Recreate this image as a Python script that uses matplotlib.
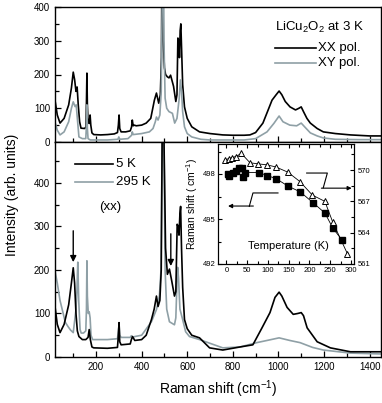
import matplotlib
matplotlib.use("Agg")
import matplotlib.pyplot as plt
from matplotlib.ticker import MultipleLocator

plt.rcParams['font.family'] = ['Liberation Sans', 'DejaVu Sans']
plt.rcParams['mathtext.fontset'] = 'custom'
plt.rcParams['mathtext.rm'] = 'Liberation Sans'

GREY = '#8fa0a6'

# ---- top panel: LiCu2O2 at 3 K, XX and XY polarisations ----
xx_shift = [20, 30, 42, 60, 80, 92, 100, 106, 112, 117, 122, 128, 134, 150, 156, 158, 160, 162,
            165, 170, 174, 177, 182, 190, 220, 250, 280, 294, 298, 301, 304, 310, 330, 350, 356,
            359, 363, 368, 376, 400, 420, 440, 456, 465, 475, 482, 487, 491, 495, 500, 505, 513,
            520, 527, 540, 550, 555, 559, 563, 566, 569, 572, 576, 580, 588, 600, 620, 654, 700,
            756, 800, 850, 875, 900, 932, 955, 972, 990, 1003, 1015, 1030, 1051, 1075, 1090, 1100,
            1110, 1125, 1140, 1170, 1197, 1250, 1316, 1400, 1450]
xx_int = [124, 80, 56, 70, 110, 160, 207, 185, 150, 163, 110, 60, 41, 40, 45, 120, 204, 110,
          60, 55, 80, 50, 27, 22, 21, 22, 24, 28, 50, 80, 40, 30, 30, 33, 45,
          65, 48, 50, 48, 50, 56, 70, 124, 145, 115, 140, 250, 800, 300, 220, 200, 193,
          190, 198, 165, 120, 140, 308, 300, 250, 330, 350, 260, 170, 104, 70, 45, 30, 25,
          21, 20, 20, 21, 28, 56, 95, 124, 140, 151, 140, 120, 104, 95, 100, 104,
          90, 70, 56, 40, 30, 25, 21, 18, 18]

xy_shift = [20, 30, 42, 60, 80, 92, 100, 108, 113, 118, 125, 140, 155, 158, 160, 162, 165, 175,
            190, 250, 296, 300, 304, 340, 356, 359, 363, 400, 434, 450, 460, 465, 472, 480, 486,
            490, 494, 498, 503, 510, 520, 535, 545, 555, 565, 570, 575, 580, 588, 600, 620, 660,
            700, 780, 850, 900, 950, 980, 1003, 1020, 1050, 1080, 1100, 1115, 1140, 1170, 1197,
            1250, 1350, 1450]
xy_int = [59, 35, 21, 30, 60, 100, 119, 105, 110, 70, 15, 10, 10, 50, 110, 40, 10, 6,
          6, 6, 8, 15, 8, 10, 20, 30, 22, 25, 30, 40, 60, 74, 65, 80, 150,
          400, 800, 300, 130, 100, 90, 85, 56, 70, 130, 184, 150, 90, 45, 25, 15, 8,
          6, 6, 6, 10, 30, 55, 77, 60, 50, 48, 56, 45, 27, 18, 12,
          8, 7, 7]

# ---- bottom panel: (xx) at 5 K and 295 K ----
k5_shift = [20, 30, 42, 60, 80, 92, 100, 106, 112, 118, 125, 140, 155, 165, 170, 175, 182, 190,
            250, 294, 298, 301, 304, 310, 350, 355, 360, 370, 400, 420, 443, 455, 465, 472, 480,
            486, 490, 494, 498, 505, 513, 522, 532, 544, 550, 556, 560, 564, 568, 571, 575, 580,
            588, 600, 620, 654, 698, 756, 831, 888, 928, 963, 985, 1003, 1015, 1038, 1065, 1085,
            1100, 1110, 1126, 1170, 1228, 1316, 1450]
k5_int = [116, 75, 56, 75, 120, 170, 205, 170, 100, 60, 47, 40, 40, 45, 63, 40, 23, 21,
          20, 22, 50, 79, 35, 28, 30, 40, 47, 38, 40, 50, 86, 110, 140, 116, 130,
          200, 500, 900, 500, 250, 190, 202, 175, 140, 150, 305, 300, 280, 330, 346, 250, 160,
          86, 65, 50, 44, 21, 16, 23, 28, 67, 102, 137, 149, 140, 114, 98, 100,
          102, 95, 67, 35, 21, 12, 12]

k295_shift = [20, 30, 42, 55, 65, 77, 88, 100, 112, 116, 120, 124, 130, 135, 145, 155, 158, 160,
              162, 166, 170, 174, 178, 185, 190, 250, 294, 298, 301, 304, 310, 350, 355, 360, 370,
              400, 443, 465, 478, 485, 490, 494, 498, 503, 510, 522, 544, 550, 555, 558, 562, 568,
              580, 593, 610, 654, 756, 831, 905, 950, 1003, 1050, 1095, 1150, 1197, 1316, 1450]
k295_int = [198, 170, 130, 102, 80, 70, 62, 56, 109, 150, 218, 130, 63, 55, 55, 60, 110, 221,
            140, 100, 104, 90, 50, 40, 40, 40, 42, 60, 74, 50, 45, 45, 49, 45, 47,
            50, 81, 109, 140, 200, 500, 900, 500, 200, 110, 81, 74, 90, 170, 206, 180, 110,
            86, 58, 47, 40, 21, 23, 33, 38, 44, 38, 33, 22, 16, 9, 7]

# arrows marking the modes followed in the inset
arrow_x = [100, 528]
arrow_tail = [290, 283]
arrow_head = [218, 209]

# ---- inset: temperature dependence ----
sq_temp = [3, 7, 15, 23, 31, 38, 40, 44, 78, 98, 119, 148, 178, 208, 237, 256, 278]
sq_shift = [498.0, 497.9, 498.1, 498.2, 498.4, 498.4, 497.8, 498.1, 498.1, 497.9, 497.7,
            497.2, 496.8, 496.1, 495.4, 494.4, 493.6]
tri_temp = [-2, 6, 14, 23, 36, 57, 76, 98, 119, 148, 177, 207, 237, 256, 291]
tri_shift = [571.0, 571.1, 571.2, 571.3, 571.6, 570.7, 570.6, 570.5, 570.3, 569.8, 568.9,
             567.6, 567.0, 565.0, 562.0]

W, H = 382, 403
fig = plt.figure(figsize=(W / 100, H / 100), dpi=100)


def fbox(x0, y0, x1, y1):
    return [x0 / W, 1 - y1 / H, (x1 - x0) / W, (y1 - y0) / H]


ax1 = fig.add_axes(fbox(55, 7, 381, 142))
ax2 = fig.add_axes(fbox(55, 142, 381, 357))

for ax in (ax1, ax2):
    ax.set_xlim(20, 1450)
    ax.xaxis.set_major_locator(MultipleLocator(200))
    ax.xaxis.set_minor_locator(MultipleLocator(100))
    ax.yaxis.set_major_locator(MultipleLocator(100))
    ax.yaxis.set_minor_locator(MultipleLocator(50))
    ax.tick_params(which='both', direction='in', labelsize=7, width=0.9)
    ax.tick_params(which='major', length=4)
    ax.tick_params(which='minor', length=3)
    for s in ax.spines.values():
        s.set_linewidth(1.0)

ax1.plot(xx_shift, xx_int, color='black', lw=1.2)
ax1.plot(xy_shift, xy_int, color=GREY, lw=1.2)
ax1.set_ylim(0, 400)
ax1.tick_params(axis='x', labelbottom=False)

ax1.text(0.675, 0.85, 'LiCu$_2$O$_2$ at 3 K', transform=ax1.transAxes, fontsize=9.5,
         va='center', ha='left')
ax1.plot([0.675, 0.80], [0.696, 0.696], color='black', lw=1.2, transform=ax1.transAxes)
ax1.text(0.807, 0.696, 'XX pol.', transform=ax1.transAxes, fontsize=9.5, va='center')
ax1.plot([0.675, 0.80], [0.585, 0.585], color=GREY, lw=1.2, transform=ax1.transAxes)
ax1.text(0.807, 0.585, 'XY pol.', transform=ax1.transAxes, fontsize=9.5, va='center')

ax2.plot(k295_shift, k295_int, color=GREY, lw=1.2)
ax2.plot(k5_shift, k5_int, color='black', lw=1.2)
ax2.set_ylim(0, 494)
ax2.set_xlabel('Raman shift (cm$^{-1}$)', fontsize=10, labelpad=5)

ax2.plot([0.061, 0.178], [0.898, 0.898], color='black', lw=1.2, transform=ax2.transAxes)
ax2.text(0.187, 0.898, '5 K', transform=ax2.transAxes, fontsize=9.5, va='center')
ax2.plot([0.061, 0.178], [0.814, 0.814], color=GREY, lw=1.2, transform=ax2.transAxes)
ax2.text(0.187, 0.814, '295 K', transform=ax2.transAxes, fontsize=9.5, va='center')
ax2.text(0.169, 0.698, '(xx)', transform=ax2.transAxes, fontsize=9.5, va='center', ha='center')

for x, t, h in zip(arrow_x, arrow_tail, arrow_head):
    ax2.annotate('', xy=(x, h), xytext=(x, t),
                 arrowprops=dict(arrowstyle='-|>', color='black', lw=1.0,
                                 mutation_scale=9, shrinkA=0, shrinkB=0))

fig.text(12 / W, 1 - 195 / H, 'Intensity (arb. units)', rotation=90, fontsize=10,
         ha='center', va='center')

# inset
axi = fig.add_axes(fbox(218, 144, 354, 264))
axi.set_facecolor('white')
axi.set_xlim(-20, 307)
axi.set_ylim(492, 500)
axi.xaxis.set_major_locator(MultipleLocator(50))
axi.xaxis.set_minor_locator(MultipleLocator(25))
axi.yaxis.set_major_locator(MultipleLocator(3))
axi.yaxis.set_minor_locator(MultipleLocator(1.5))
axi.tick_params(which='both', direction='in', labelsize=5.5, width=0.8, top=True, pad=2)
axi.tick_params(which='major', length=3)
axi.tick_params(which='minor', length=2)
axi.set_ylabel('Raman shift ( cm$^{-1}$)', fontsize=7.5, labelpad=2)
axi.plot(sq_temp, sq_shift, color='black', lw=0.6, marker='s', ms=3.8,
         mfc='black', mec='black', clip_on=False)

axr = axi.twinx()
axr.set_ylim(561, 572.5)
axr.yaxis.set_major_locator(MultipleLocator(3))
axr.yaxis.set_minor_locator(MultipleLocator(1.5))
axr.tick_params(which='both', direction='in', labelsize=5.5, width=0.8, pad=3)
axr.tick_params(which='major', length=3)
axr.tick_params(which='minor', length=2)
axr.plot(tri_temp, tri_shift, color='black', lw=0.6, marker='^', ms=5,
         mfc='white', mec='black', mew=0.7, clip_on=False)

axi.text(0.52, 0.15, 'Temperature (K)', transform=axi.transAxes, fontsize=8,
         ha='center', va='center')

# lightning-style arrows pointing to each axis
axr.plot([0.441, 0.257, 0.230], [0.592, 0.592, 0.48], color='black', lw=0.8,
         transform=axi.transAxes)
axr.annotate('', xy=(0.074, 0.483), xytext=(0.26, 0.483), xycoords='axes fraction',
             arrowprops=dict(arrowstyle='-|>', color='black', lw=0.8, mutation_scale=6,
                             shrinkA=0, shrinkB=0))
axr.plot([0.652, 0.804, 0.774], [0.758, 0.758, 0.635], color='black', lw=0.8,
         transform=axi.transAxes)
axr.annotate('', xy=(0.983, 0.632), xytext=(0.76, 0.632), xycoords='axes fraction',
             arrowprops=dict(arrowstyle='-|>', color='black', lw=0.8, mutation_scale=6,
                             shrinkA=0, shrinkB=0))

fig.savefig('out.png', dpi=100)
